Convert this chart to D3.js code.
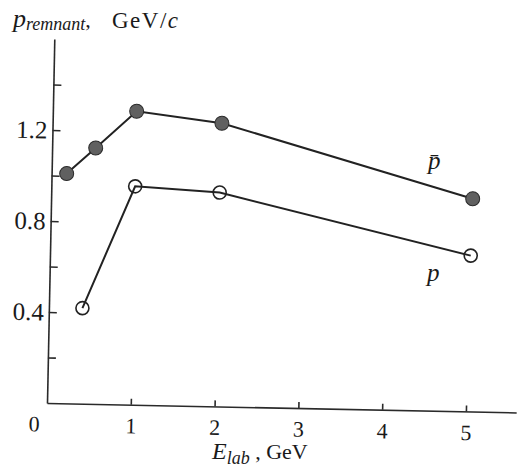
<!DOCTYPE html>
<html>
<head>
<meta charset="utf-8">
<script src="https://cdn.jsdelivr.net/npm/d3@7"></script>
<style>
body { margin: 0; background: #fff; }
text { font-family: "Liberation Serif", "Times New Roman", serif; fill: #1a1a1a; }
.axis path, .axis line { stroke: #2a2a2a; stroke-width: 1.6; }
</style>
</head>
<body>
<div id="chart"></div>
<script>
// values (E_lab in GeV, p_remnant in GeV/c)
var pbarEnergy = [0.18, 0.52, 1.0, 2.02, 5.03];
var pbarMomentum = [1.01, 1.125, 1.29, 1.245, 0.935];
var pEnergy = [0.4, 1.0, 2.01, 5.02];
var pMomentum = [0.42, 0.96, 0.94, 0.685];

var xTicks = [0, 1, 2, 3, 4, 5];
var yTicks = [0.2, 0.4, 0.6, 0.8, 1.0, 1.2, 1.4];
var yLabelled = [0.4, 0.8, 1.2];

var W = 522, H = 472;
var origin = {x: 47, y: 403};
var tilt = 1.15; // the scan is a little rotated

var svg = d3.select("#chart").append("svg")
  .attr("width", W)
  .attr("height", H);

var g = svg.append("g")
  .attr("transform", "translate(" + origin.x + "," + origin.y + ") rotate(" + tilt + ")");

var x = d3.scaleLinear().domain([0, 5.6]).range([0, 5.6 * 83.8]);
var y = d3.scaleLinear().domain([0, 1.6]).range([0, -1.6 * 227.5]);

// x axis, ticks pointing inward
var xAxis = g.append("g")
  .attr("class", "axis")
  .call(d3.axisBottom(x)
    .tickValues(xTicks)
    .tickSizeInner(-6)
    .tickSizeOuter(0)
    .tickPadding(13)
    .tickFormat(d3.format("d")));
xAxis.selectAll("text")
  .style("font-size", "22px")
  .attr("fill", "#1a1a1a");
// the 0 sits in the corner, left of the origin
xAxis.selectAll(".tick").filter(function(d) { return d == 0; })
  .each(function() {
    d3.select(this).select("line").remove();
    d3.select(this).select("text").attr("x", -13);
  });

// y axis
var yAxis = g.append("g")
  .attr("class", "axis")
  .call(d3.axisLeft(y)
    .tickValues(yTicks)
    .tickSizeInner(-8)
    .tickSizeOuter(0)
    .tickPadding(5)
    .tickFormat(function(d) {
      return yLabelled.indexOf(d) >= 0 ? d3.format(".1f")(d) : "";
    }));
yAxis.selectAll("text")
  .style("font-size", "25px")
  .attr("fill", "#1a1a1a");

var line = d3.line()
  .x(function(d) { return x(d[0]); })
  .y(function(d) { return y(d[1]); });

var pbarData = d3.zip(pbarEnergy, pbarMomentum);
var pData = d3.zip(pEnergy, pMomentum);

g.append("path")
  .datum(pbarData)
  .attr("fill", "none")
  .attr("stroke", "#222")
  .attr("stroke-width", 2)
  .attr("d", line);

g.append("path")
  .datum(pData)
  .attr("fill", "none")
  .attr("stroke", "#222")
  .attr("stroke-width", 2)
  .attr("d", line);

g.selectAll("circle.pbar")
  .data(pbarData)
  .enter()
  .append("circle")
  .attr("class", "pbar")
  .attr("cx", function(d) { return x(d[0]); })
  .attr("cy", function(d) { return y(d[1]); })
  .attr("r", 7)
  .attr("fill", "#606060")
  .attr("stroke", "#2a2a2a")
  .attr("stroke-width", 1);

g.selectAll("circle.p")
  .data(pData)
  .enter()
  .append("circle")
  .attr("class", "p")
  .attr("cx", function(d) { return x(d[0]); })
  .attr("cy", function(d) { return y(d[1]); })
  .attr("r", 6.5)
  .attr("fill", "none")
  .attr("stroke", "#222")
  .attr("stroke-width", 1.6);

// curve labels
svg.append("text")
  .attr("x", 428)
  .attr("y", 169)
  .style("font-size", "25px")
  .style("font-style", "italic")
  .text("p\u0304");

svg.append("text")
  .attr("x", 427)
  .attr("y", 281)
  .style("font-size", "25px")
  .style("font-style", "italic")
  .text("p");

// y title
var yt = svg.append("text")
  .attr("x", 13)
  .attr("y", 27);
yt.append("tspan")
  .style("font-size", "26px")
  .style("font-style", "italic")
  .text("p");
yt.append("tspan")
  .attr("dy", 3)
  .style("font-size", "18px")
  .style("font-style", "italic")
  .text("remnant");
yt.append("tspan")
  .attr("dy", -3)
  .style("font-size", "22px")
  .text(",");
var unit = svg.append("text")
  .attr("x", 112)
  .attr("y", 28)
  .style("font-size", "23px")
  .style("letter-spacing", "1.5px");
unit.append("tspan").text("GeV/");
unit.append("tspan").style("font-style", "italic").text("c");

// x title
var xt = svg.append("text")
  .attr("x", 212)
  .attr("y", 459);
xt.append("tspan")
  .style("font-size", "24px")
  .style("font-style", "italic")
  .text("E");
xt.append("tspan")
  .attr("dy", 5)
  .style("font-size", "18px")
  .style("font-style", "italic")
  .text("lab");
xt.append("tspan")
  .attr("dy", -5)
  .style("font-size", "22px")
  .text(" , GeV");
</script>
</body>
</html>
